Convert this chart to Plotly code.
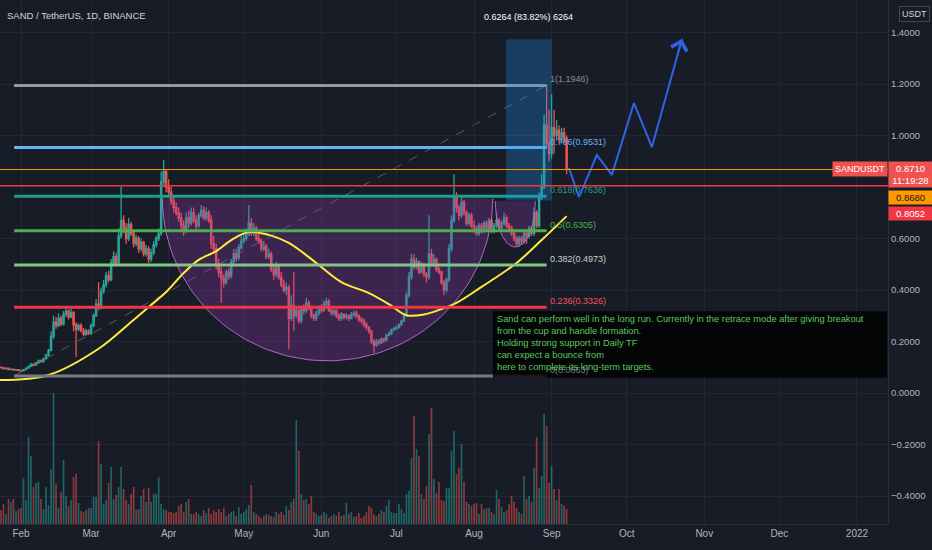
import numpy as np
import pandas as pd
import plotly.graph_objects as go

# SAND / USDT daily candles, 24 Jan - 7 Sep 2021
start_day = "2021-01-24"

opens = [
    0.100, 0.098, 0.094, 0.097, 0.091, 0.093, 0.089, 0.091,  # jan
    0.087, 0.086, 0.091, 0.097, 0.104, 0.112, 0.108, 0.117, 0.126, 0.121, 0.133, 0.147, 0.165, 0.220,
    0.275, 0.262, 0.290, 0.268, 0.305, 0.318, 0.296, 0.312, 0.265, 0.248, 0.262, 0.243, 0.228, 0.240,  # feb
    0.232, 0.262, 0.300, 0.345, 0.330, 0.395, 0.420, 0.455, 0.440, 0.505, 0.530, 0.505, 0.610, 0.670, 0.640,
    0.600, 0.655, 0.620, 0.580, 0.600, 0.560, 0.585, 0.540, 0.560, 0.520, 0.545, 0.575, 0.600, 0.620, 0.820, 0.860,  # mar
    0.800, 0.780, 0.745, 0.720, 0.700, 0.680, 0.650, 0.630, 0.680, 0.660, 0.700, 0.670, 0.650, 0.690, 0.710,
    0.680, 0.700, 0.670, 0.580, 0.560, 0.500, 0.470, 0.445, 0.430, 0.470, 0.455, 0.510, 0.540, 0.525, 0.565,  # apr
    0.590, 0.600, 0.615, 0.660, 0.620, 0.640, 0.600, 0.590, 0.560, 0.570, 0.530, 0.540, 0.480, 0.460, 0.490,
    0.450, 0.420, 0.400, 0.410, 0.290, 0.340, 0.300, 0.320, 0.280, 0.330, 0.320, 0.350, 0.330, 0.300, 0.290, 0.310,  # may
    0.330, 0.320, 0.345, 0.355, 0.320, 0.310, 0.320, 0.300, 0.290, 0.305, 0.295, 0.300, 0.290, 0.305, 0.310,
    0.300, 0.285, 0.280, 0.265, 0.255, 0.240, 0.200, 0.185, 0.200, 0.195, 0.210, 0.205, 0.225, 0.230, 0.245,  # jun
    0.250, 0.255, 0.265, 0.280, 0.300, 0.380, 0.450, 0.520, 0.490, 0.510, 0.470, 0.500, 0.460, 0.450, 0.540,
    0.500, 0.520, 0.480, 0.470, 0.430, 0.400, 0.440, 0.560, 0.670, 0.760, 0.720, 0.690, 0.740, 0.700, 0.660, 0.690,  # jul
    0.650, 0.640, 0.620, 0.650, 0.630, 0.660, 0.640, 0.670, 0.630, 0.650, 0.670, 0.640, 0.660, 0.680, 0.650,
    0.640, 0.620, 0.600, 0.580, 0.600, 0.590, 0.620, 0.610, 0.640, 0.620, 0.700, 0.650, 0.760, 0.800, 1.040, 0.970,  # aug
    0.930, 1.030, 1.000, 1.020, 0.990, 1.010, 0.990,  # sep
]
highs = [
    0.102, 0.100, 0.099, 0.099, 0.095, 0.095, 0.093, 0.093,
    0.090, 0.093, 0.099, 0.107, 0.116, 0.115, 0.120, 0.130, 0.130, 0.137, 0.152, 0.172, 0.240, 0.300,
    0.295, 0.310, 0.300, 0.318, 0.335, 0.325, 0.330, 0.318, 0.275, 0.270, 0.272, 0.252, 0.250, 0.248,
    0.270, 0.310, 0.365, 0.430, 0.410, 0.440, 0.470, 0.475, 0.520, 0.550, 0.545, 0.640, 0.800, 0.690, 0.660,
    0.680, 0.665, 0.630, 0.615, 0.610, 0.600, 0.590, 0.575, 0.570, 0.560, 0.590, 0.610, 0.640, 0.860, 0.905, 0.870,
    0.830, 0.800, 0.770, 0.740, 0.720, 0.700, 0.670, 0.700, 0.710, 0.720, 0.720, 0.690, 0.700, 0.730, 0.725,
    0.720, 0.710, 0.690, 0.610, 0.580, 0.520, 0.490, 0.460, 0.480, 0.485, 0.520, 0.560, 0.560, 0.580, 0.610,
    0.620, 0.640, 0.730, 0.680, 0.660, 0.650, 0.620, 0.600, 0.590, 0.580, 0.560, 0.550, 0.500, 0.510, 0.500,
    0.470, 0.440, 0.430, 0.420, 0.380, 0.470, 0.335, 0.330, 0.340, 0.345, 0.370, 0.360, 0.340, 0.310, 0.320, 0.340,
    0.345, 0.360, 0.370, 0.365, 0.330, 0.330, 0.325, 0.310, 0.315, 0.310, 0.310, 0.305, 0.315, 0.320, 0.320,
    0.305, 0.295, 0.290, 0.275, 0.260, 0.245, 0.210, 0.210, 0.210, 0.215, 0.215, 0.230, 0.240, 0.250, 0.258,
    0.262, 0.270, 0.285, 0.305, 0.390, 0.470, 0.540, 0.540, 0.525, 0.515, 0.510, 0.505, 0.470, 0.690, 0.560,
    0.540, 0.525, 0.490, 0.475, 0.440, 0.450, 0.580, 0.690, 0.850, 0.780, 0.730, 0.760, 0.750, 0.710, 0.700, 0.700,
    0.670, 0.650, 0.660, 0.660, 0.670, 0.670, 0.680, 0.680, 0.660, 0.700, 0.680, 0.670, 0.700, 0.690, 0.660,
    0.650, 0.630, 0.610, 0.610, 0.610, 0.630, 0.630, 0.650, 0.650, 0.720, 0.710, 0.780, 0.850, 1.080, 1.195, 1.100,
    1.160, 1.100, 1.060, 1.040, 1.030, 1.030, 1.000,
]
lows = [
    0.096, 0.092, 0.092, 0.089, 0.089, 0.087, 0.088, 0.085,
    0.083, 0.084, 0.089, 0.095, 0.102, 0.104, 0.106, 0.114, 0.118, 0.119, 0.130, 0.144, 0.162, 0.210,
    0.250, 0.255, 0.260, 0.262, 0.295, 0.285, 0.290, 0.240, 0.140, 0.240, 0.235, 0.220, 0.222, 0.225,
    0.225, 0.255, 0.295, 0.320, 0.325, 0.385, 0.410, 0.430, 0.435, 0.495, 0.495, 0.500, 0.600, 0.620, 0.580,
    0.590, 0.610, 0.565, 0.570, 0.545, 0.550, 0.530, 0.530, 0.505, 0.510, 0.535, 0.565, 0.590, 0.610, 0.800, 0.780,
    0.760, 0.730, 0.700, 0.690, 0.665, 0.630, 0.610, 0.620, 0.640, 0.650, 0.660, 0.630, 0.640, 0.680, 0.670,
    0.670, 0.660, 0.560, 0.540, 0.480, 0.450, 0.350, 0.410, 0.420, 0.440, 0.445, 0.500, 0.510, 0.515, 0.555,
    0.580, 0.590, 0.610, 0.610, 0.610, 0.590, 0.580, 0.550, 0.550, 0.520, 0.520, 0.470, 0.440, 0.450, 0.440,
    0.410, 0.390, 0.380, 0.170, 0.280, 0.240, 0.290, 0.270, 0.270, 0.305, 0.310, 0.320, 0.290, 0.280, 0.280, 0.300,
    0.310, 0.315, 0.335, 0.315, 0.300, 0.300, 0.290, 0.280, 0.280, 0.285, 0.285, 0.280, 0.285, 0.295, 0.290,
    0.275, 0.270, 0.255, 0.245, 0.230, 0.190, 0.155, 0.180, 0.185, 0.190, 0.195, 0.200, 0.220, 0.225, 0.240,
    0.245, 0.250, 0.260, 0.275, 0.295, 0.370, 0.440, 0.480, 0.480, 0.460, 0.465, 0.450, 0.430, 0.440, 0.490,
    0.490, 0.470, 0.460, 0.420, 0.380, 0.390, 0.430, 0.550, 0.660, 0.700, 0.670, 0.680, 0.690, 0.650, 0.650, 0.640,
    0.620, 0.610, 0.610, 0.620, 0.620, 0.630, 0.630, 0.620, 0.620, 0.640, 0.630, 0.630, 0.650, 0.640, 0.630,
    0.610, 0.590, 0.570, 0.570, 0.575, 0.580, 0.580, 0.600, 0.610, 0.610, 0.640, 0.640, 0.750, 0.790, 0.950, 0.900,
    0.910, 0.930, 0.980, 0.970, 0.970, 0.970, 0.850,
]
closes = [
    0.098, 0.094, 0.097, 0.091, 0.093, 0.089, 0.091, 0.087,
    0.086, 0.091, 0.097, 0.104, 0.112, 0.108, 0.117, 0.126, 0.121, 0.133, 0.147, 0.165, 0.220, 0.275,
    0.262, 0.290, 0.268, 0.305, 0.318, 0.296, 0.312, 0.265, 0.248, 0.262, 0.243, 0.228, 0.240, 0.232,
    0.262, 0.300, 0.345, 0.330, 0.395, 0.420, 0.455, 0.440, 0.505, 0.530, 0.505, 0.610, 0.670, 0.640, 0.600,
    0.655, 0.620, 0.580, 0.600, 0.560, 0.585, 0.540, 0.560, 0.520, 0.545, 0.575, 0.600, 0.620, 0.820, 0.860, 0.800,
    0.780, 0.745, 0.720, 0.700, 0.680, 0.650, 0.630, 0.680, 0.660, 0.700, 0.670, 0.650, 0.690, 0.710, 0.680,
    0.700, 0.670, 0.580, 0.560, 0.500, 0.470, 0.445, 0.430, 0.470, 0.455, 0.510, 0.540, 0.525, 0.565, 0.590,
    0.600, 0.615, 0.660, 0.620, 0.640, 0.600, 0.590, 0.560, 0.570, 0.530, 0.540, 0.480, 0.460, 0.490, 0.450,
    0.420, 0.400, 0.410, 0.290, 0.340, 0.300, 0.320, 0.280, 0.330, 0.320, 0.350, 0.330, 0.300, 0.290, 0.310, 0.330,
    0.320, 0.345, 0.355, 0.320, 0.310, 0.320, 0.300, 0.290, 0.305, 0.295, 0.300, 0.290, 0.305, 0.310, 0.300,
    0.285, 0.280, 0.265, 0.255, 0.240, 0.200, 0.185, 0.200, 0.195, 0.210, 0.205, 0.225, 0.230, 0.245, 0.250,
    0.255, 0.265, 0.280, 0.300, 0.380, 0.450, 0.520, 0.490, 0.510, 0.470, 0.500, 0.460, 0.450, 0.540, 0.500,
    0.520, 0.480, 0.470, 0.430, 0.400, 0.440, 0.560, 0.670, 0.760, 0.720, 0.690, 0.740, 0.700, 0.660, 0.690, 0.650,
    0.640, 0.620, 0.650, 0.630, 0.660, 0.640, 0.670, 0.630, 0.650, 0.670, 0.640, 0.660, 0.680, 0.650, 0.640,
    0.620, 0.600, 0.580, 0.600, 0.590, 0.620, 0.610, 0.640, 0.620, 0.700, 0.650, 0.760, 0.800, 1.040, 0.970, 0.930,
    1.030, 1.000, 1.020, 0.990, 1.010, 0.990, 0.871,
]
# volume, millions of SAND
volumes = [
    14, 20, 10, 25, 22, 25, 13, 15,
    16, 46, 24, 87, 68, 37, 41, 42, 25, 15, 37, 19, 55, 131, 40, 16, 32, 64, 28, 18, 24, 47, 50, 21, 13, 12, 14, 16,
    16, 27, 27, 83, 60, 20, 24, 41, 57, 25, 29, 37, 57, 35, 24, 20, 30, 37, 14, 15, 28, 35, 22, 36, 22, 30, 30, 47, 20, 15, 14,
    12, 12, 11, 12, 18, 20, 12, 22, 25, 10, 10, 12, 10, 8, 14, 11, 16, 10, 14, 12, 15, 12, 16, 8, 10, 12, 13, 8, 17, 10,
    12, 15, 19, 39, 12, 10, 8, 6, 8, 10, 9, 8, 7, 12, 10, 12, 9, 18, 14, 22, 25, 104, 73, 30, 24, 25, 20, 28, 12, 10, 8,
    9, 12, 10, 6, 8, 10, 8, 12, 8, 9, 21, 10, 12, 7, 8, 11, 6, 8, 12, 18, 16, 10, 8, 10, 14, 12, 18, 24, 12, 11,
    11, 20, 15, 11, 30, 33, 66, 108, 75, 68, 30, 25, 38, 90, 116, 45, 31, 42, 24, 23, 36, 36, 73, 93, 50, 56, 80, 42, 22, 20, 18,
    20, 21, 10, 20, 15, 16, 16, 12, 10, 34, 25, 17, 12, 14, 20, 28, 22, 16, 12, 10, 48, 25, 28, 22, 56, 87, 36, 48, 110, 98, 41,
    58, 35, 24, 35, 20, 18, 15,
]

# moving average (yellow), read at a few dates
ma_dates = ["2021-01-23", "2021-02-12", "2021-03-04", "2021-03-17", "2021-03-24", "2021-03-31",
            "2021-04-07", "2021-04-13", "2021-04-20", "2021-04-26", "2021-05-03", "2021-05-11",
            "2021-05-19", "2021-05-30", "2021-06-09", "2021-06-20", "2021-06-28", "2021-07-05",
            "2021-07-12", "2021-07-19", "2021-07-25", "2021-08-04", "2021-08-18", "2021-08-28", "2021-09-07"]
ma_values = [0.050, 0.070, 0.172, 0.276, 0.334, 0.392, 0.466, 0.517, 0.551, 0.594, 0.625, 0.614,
             0.583, 0.505, 0.431, 0.388, 0.345, 0.302, 0.305, 0.326, 0.350, 0.412, 0.505, 0.594, 0.687]

# fib retracement
fib_start, fib_end = "2021-01-29 06:00", "2021-08-30"
fib_levels = ["1", "0.786", "0.618", "0.5", "0.382", "0.236", "0"]
fib_prices = [1.1946, 0.9531, 0.7636, 0.6305, 0.4973, 0.3326, 0.0663]
fib_colors = ["#9598a1", "#64b5f6", "#1e9e8c", "#4caf50", "#81c784", "#f23645", "#787b86"]
fib_text_colors = ["#8a8e99", "#64b5f6", "#1e9e8c", "#4caf50", "#c9d3c9", "#f7525f", "#787b86"]

# projected path (blue)
path_dates = ["2021-09-07 22:00", "2021-09-11 22:00", "2021-09-19 02:00", "2021-09-25 02:00",
              "2021-10-03 22:00", "2021-10-11 02:00", "2021-10-23 02:00"]
path_prices = [0.874, 0.761, 0.924, 0.847, 1.126, 0.955, 1.375]

# price range measurement
range_from, range_to = "2021-08-13 19:00", "2021-09-01 02:00"
range_low, range_high = 0.7473, 1.3737

# cup and handle arcs: centre date, half width (days), rim price, depth
cup = ("2021-06-03 12:00", 66, 0.755, 0.63)
handle = ("2021-08-17 12:00", 8, 0.745, 0.178)

last_price, alert_orange, alert_red = 0.8710, 0.8680, 0.8052

month_ticks = ["2021-02-01", "2021-03-01", "2021-04-01", "2021-05-01", "2021-06-01", "2021-07-01",
               "2021-08-01", "2021-09-01", "2021-10-01", "2021-11-01", "2021-12-01", "2022-01-01"]
month_labels = ["Feb", "Mar", "Apr", "May", "Jun", "Jul", "Aug", "Sep", "Oct", "Nov", "Dec", "2022"]
price_ticks = [1.4, 1.2, 1.0, 0.6, 0.4, 0.2, 0.0, -0.2, -0.4]

note = ("Sand can perform well in the long run. Currently in the retrace mode after giving breakout<br>"
        "from the cup and handle formation.<br>"
        "Holding strong support in Daily TF<br>"
        "can expect a bounce from<br>"
        "here to complete its long-term targets.")

FONT = "Liberation Sans, Arial, sans-serif"
BG = "#181c27"
UP, DOWN = "#26a69a", "#ef5350"

days = pd.date_range(start_day, periods=len(closes), freq="D")
vol_colors = ["rgba(38,166,154,0.55)" if c >= o else "rgba(239,83,80,0.55)" for o, c in zip(opens, closes)]


def arc(spec):
    centre, half_days, rim, depth = spec
    t = np.linspace(0, np.pi, 90)
    xs = pd.Timestamp(centre) + pd.to_timedelta(half_days * np.cos(t), unit="D")
    ys = rim - depth * np.sin(t)
    return xs, ys


fig = go.Figure()

fig.add_trace(go.Bar(x=days, y=volumes, marker_color=vol_colors, marker_line_width=0,
                     yaxis="y2", hoverinfo="skip"))

for spec in (cup, handle):
    ax_, ay_ = arc(spec)
    fig.add_trace(go.Scatter(x=ax_, y=ay_, mode="lines", fill="toself",
                             fillcolor="rgba(156,60,180,0.27)",
                             line=dict(color="rgba(190,110,215,0.9)", width=1), hoverinfo="skip"))

fig.add_trace(go.Candlestick(x=days, open=opens, high=highs, low=lows, close=closes,
                             increasing=dict(line=dict(color=UP, width=1.3), fillcolor=UP),
                             decreasing=dict(line=dict(color=DOWN, width=1.3), fillcolor=DOWN),
                             whiskerwidth=0))

fig.add_trace(go.Scatter(x=ma_dates, y=ma_values, mode="lines", line_shape="spline",
                         line=dict(color="#ffeb3b", width=2), hoverinfo="skip"))

fig.add_trace(go.Scatter(x=path_dates, y=path_prices, mode="lines",
                         line=dict(color="#2f62e6", width=2), hoverinfo="skip"))

shapes = []
# fib diagonal
shapes.append(dict(type="line", xref="x", yref="y", x0=fib_start, x1=fib_end,
                   y0=fib_prices[-1], y1=fib_prices[0], layer="below",
                   line=dict(color="rgba(140,145,160,0.55)", width=1, dash="dash")))
for p, col in zip(fib_prices, fib_colors):
    shapes.append(dict(type="line", xref="x", yref="y", x0=fib_start, x1=fib_end, y0=p, y1=p,
                       line=dict(color=col, width=3), layer="above"))
# price range box
shapes.append(dict(type="rect", xref="x", yref="y", x0=range_from, x1=range_to,
                   y0=range_low, y1=range_high, fillcolor="rgba(33,150,243,0.28)",
                   line=dict(width=0), layer="above"))
# alert lines
shapes.append(dict(type="line", xref="paper", yref="y", x0=0, x1=1, y0=alert_orange, y1=alert_orange,
                   line=dict(color="#ff9800", width=1), layer="above"))
shapes.append(dict(type="line", xref="paper", yref="y", x0=0, x1=1, y0=alert_red, y1=alert_red,
                   line=dict(color="#f23645", width=1.5), layer="above"))
# note box
shapes.append(dict(type="rect", xref="paper", yref="paper", x0=0.555, x1=0.999, y0=0.279, y1=0.406,
                   fillcolor="rgba(0,0,0,0.82)", line=dict(width=0), layer="above"))

annotations = []
for lvl, p, col in zip(fib_levels, fib_prices, fib_text_colors):
    annotations.append(dict(x=fib_end, y=p, xref="x", yref="y", text=f"{lvl}({p:.4f})",
                            showarrow=False, xanchor="left", yanchor="bottom", xshift=1, yshift=-1,
                            font=dict(family=FONT, size=9, color=col)))

annotations += [
    dict(x=path_dates[-1], y=path_prices[-1], ax="2021-10-21 02:00", ay=1.305, xref="x", yref="y",
         axref="x", ayref="y", showarrow=True, arrowhead=4, arrowsize=1.6, arrowwidth=2,
         arrowcolor="#2f62e6", text=""),
    dict(x=0.006, y=0.971, xref="paper", yref="paper", text="SAND / TetherUS, 1D, BINANCE",
         showarrow=False, xanchor="left", yanchor="middle",
         font=dict(family=FONT, size=9.5, color="#d1d4dc")),
    dict(x=pd.Timestamp(range_from) + (pd.Timestamp(range_to) - pd.Timestamp(range_from)) / 2,
         y=0.968, xref="x", yref="paper", text="0.6264 (83.82%) 6264", showarrow=False,
         xanchor="center", yanchor="middle", font=dict(family=FONT, size=9, color="#ffffff")),
    dict(x=0.5574, y=0.404, xref="paper", yref="paper", text=note, showarrow=False,
         xanchor="left", yanchor="top", align="left",
         font=dict(family=FONT, size=9.3, color="#5cc85a")),
    dict(x=1, y=0.973, xref="paper", yref="paper", text="USDT", showarrow=False,
         xanchor="left", yanchor="middle", xshift=11, borderpad=2, bordercolor="#434651",
         borderwidth=1, font=dict(family=FONT, size=9, color="#d1d4dc")),
    dict(x=1, y=last_price, xref="paper", yref="y", text="SANDUSDT", showarrow=False,
         xanchor="right", yanchor="middle", bgcolor="#ef5350", borderpad=2,
         font=dict(family=FONT, size=9, color="#ffffff")),
    dict(x=1, y=last_price, xref="paper", yref="y", text="0.8710<br>11:19:28", showarrow=False,
         xanchor="left", yanchor="top", yshift=8, bgcolor="#ef5350", borderpad=1, width=41,
         font=dict(family=FONT, size=9.5, color="#ffffff")),
    dict(x=1, y=alert_orange, xref="paper", yref="y", text="0.8680", showarrow=False,
         xanchor="left", yanchor="middle", yshift=-28, bgcolor="#ff9800", borderpad=1, width=41,
         font=dict(family=FONT, size=9.5, color="#131722")),
    dict(x=1, y=alert_red, xref="paper", yref="y", text="0.8052", showarrow=False,
         xanchor="left", yanchor="middle", yshift=-28, bgcolor="#f23645", borderpad=1, width=41,
         font=dict(family=FONT, size=9.5, color="#ffffff")),
]

fig.update_layout(
    width=932, height=550,
    margin=dict(l=0, r=44, t=0, b=26, pad=0),
    paper_bgcolor=BG, plot_bgcolor=BG,
    showlegend=False,
    font=dict(family=FONT, size=9.5, color="#b2b5be"),
    shapes=shapes, annotations=annotations,
    bargap=0.35,
    xaxis=dict(type="date", range=["2021-01-23 14:38", "2022-01-13 09:36"],
               tickvals=month_ticks, ticktext=month_labels, ticks="", automargin=False,
               showgrid=True, gridcolor="#222736", gridwidth=1,
               showline=True, linecolor="#2a2e39", zeroline=False,
               rangeslider=dict(visible=False),
               tickfont=dict(family=FONT, size=10, color="#b2b5be")),
    yaxis=dict(side="right", range=[-0.5087, 1.5262], automargin=False,
               tickvals=price_ticks, tickformat=".4f", ticks="",
               showgrid=True, gridcolor="#222736",
               zeroline=False, showline=True, linecolor="#2a2e39",
               tickfont=dict(family=FONT, size=9.5, color="#b2b5be")),
    yaxis2=dict(overlaying="y", range=[0, 524], visible=False),
)

# page margin off so the 932x550 figure fills the window
fig.write_html("out.html", config={"displayModeBar": False},
               post_script="document.body.style.margin='0';document.body.style.background='#181c27';")
